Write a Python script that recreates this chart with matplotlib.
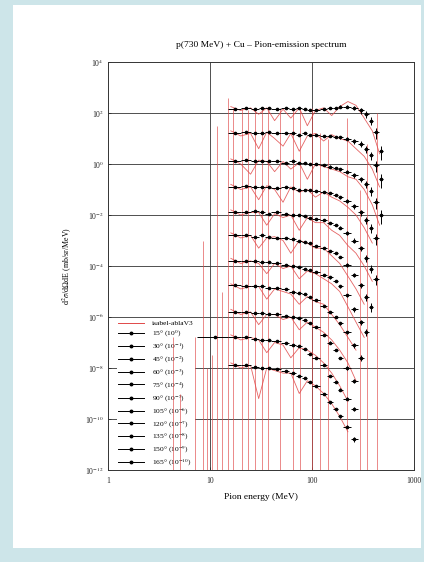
import numpy as np
import matplotlib
matplotlib.use("Agg")
import matplotlib.pyplot as plt
from matplotlib.patches import Rectangle
from matplotlib.lines import Line2D

plt.rcParams['font.family'] = ['Liberation Serif', 'DejaVu Serif']
plt.rcParams['mathtext.fontset'] = 'stix'

nan = np.nan

# ---------------- data ----------------
title = "p(730 MeV) + Cu \u2013 Pion-emission spectrum"
xlabel = "Pion energy (MeV)"
ylabel = r"d$^2\sigma$/d$\Omega$dE (mb/sr/MeV)"
model_label = "isabel-ablaV3"

angles = [15, 30, 45, 60, 75, 90, 105, 120, 135, 150, 165]
scale_exp = [0, -1, -2, -3, -4, -5, -6, -7, -8, -9, -10]

bin_lo = [7.5, 15, 20, 25, 30, 35, 40, 50, 60, 70, 80, 90, 100, 120, 140, 160, 180, 200, 240, 280, 320, 360, 400, 450]
bin_hi = [15, 20, 25, 30, 35, 40, 50, 60, 70, 80, 90, 100, 120, 140, 160, 180, 200, 240, 280, 320, 360, 400, 450, 500]
rel_err = [0.08, 0.05, 0.05, 0.05, 0.05, 0.05, 0.05, 0.05, 0.05, 0.05, 0.06, 0.06, 0.07, 0.08, 0.1, 0.1, 0.12, 0.15, 0.2, 0.25, 0.3, 0.35, 0.45, 0.55]

# measured spectra, log10 of (scaled) cross section per bin
log_data = [
    [nan, 2.15, 2.2, 2.15, 2.2, 2.2, 2.15, 2.2, 2.15, 2.2, 2.15, 2.1, 2.1, 2.15, 2.2, 2.2, 2.25, 2.25, 2.2, 2.1, 1.95, 1.7, 1.25, 0.5],
    [nan, 1.2, 1.25, 1.2, 1.2, 1.25, 1.2, 1.2, 1.2, 1.15, 1.2, 1.15, 1.15, 1.1, 1.1, 1.05, 1.05, 1.0, 0.9, 0.8, 0.6, 0.35, -0.05, -0.6],
    [nan, 0.1, 0.15, 0.1, 0.1, 0.1, 0.1, 0.05, 0.1, 0.05, 0.05, 0.0, 0.0, -0.05, -0.1, -0.15, -0.2, -0.3, -0.45, -0.6, -0.8, -1.05, -1.5, -2.0],
    [nan, -0.9, -0.85, -0.9, -0.9, -0.9, -0.95, -0.9, -0.95, -1.0, -1.0, -1.0, -1.05, -1.1, -1.15, -1.2, -1.3, -1.45, -1.65, -1.9, -2.2, -2.5, -2.9, nan],
    [nan, -1.9, -1.9, -1.85, -1.9, -1.95, -1.9, -1.95, -2.0, -2.0, -2.05, -2.1, -2.15, -2.2, -2.3, -2.4, -2.5, -2.7, -3.0, -3.3, -3.7, -4.1, -4.5, nan],
    [nan, -2.8, -2.8, -2.85, -2.8, -2.85, -2.9, -2.9, -2.95, -3.0, -3.05, -3.1, -3.2, -3.3, -3.4, -3.5, -3.65, -3.95, -4.35, -4.75, -5.2, -5.6, nan, nan],
    [nan, -3.8, -3.8, -3.8, -3.85, -3.85, -3.9, -3.95, -4.0, -4.05, -4.1, -4.15, -4.25, -4.35, -4.45, -4.6, -4.8, -5.15, -5.7, -6.2, -6.6, nan, nan, nan],
    [nan, -4.75, -4.8, -4.8, -4.8, -4.85, -4.85, -4.9, -5.0, -5.05, -5.1, -5.2, -5.35, -5.55, -5.8, -6.0, -6.25, -6.6, -7.1, -7.6, nan, nan, nan, nan],
    [nan, -5.8, -5.8, -5.85, -5.85, -5.9, -5.9, -5.95, -6.0, -6.05, -6.1, -6.25, -6.4, -6.7, -7.0, -7.3, -7.6, -8.0, -8.5, nan, nan, nan, nan, nan],
    [-6.8, -6.8, -6.8, -6.85, -6.9, -6.9, -6.95, -7.0, -7.1, -7.15, -7.25, -7.45, -7.6, -7.9, -8.3, -8.55, -8.85, -9.2, -9.6, nan, nan, nan, nan, nan],
    [nan, -7.9, -7.9, -7.95, -8.0, -8.0, -8.05, -8.1, -8.2, -8.3, -8.4, -8.55, -8.7, -9.0, -9.35, -9.6, -9.9, -10.3, -10.8, nan, nan, nan, nan, nan],
]

# model calculation (log10), common energy grid
mc_E = [16, 20, 25, 30, 36, 43, 52, 62, 75, 90, 108, 130, 156, 187, 225, 270, 325, 390, 460]
log_mc = [
    [2.25, 2.1, 2.2, 1.95, 2.2, 1.7, 2.15, 1.8, 2.2, 1.5, 2.1, 2.2, 1.9, 2.25, 2.45, 2.3, 1.8, 1.3, 0.4],
    [1.3, 1.1, 1.2, 0.6, 1.25, 1.0, 0.7, 1.2, 0.5, 1.1, 1.2, 0.9, 1.15, 1.0, 0.9, 0.6, 0.3, -0.2, -0.9],
    [0.2, 0.0, -0.4, 0.15, 0.1, -0.3, 0.1, -0.2, 0.05, -0.6, 0.0, -0.1, -0.2, -0.3, -0.5, -0.6, -1.0, -1.6, -2.4],
    [-0.8, -1.0, -0.9, -1.4, -0.85, -1.0, -1.5, -0.9, -1.1, -1.0, -1.3, -1.1, -1.3, -1.45, -1.7, -2.0, -2.5, -3.1, nan],
    [-1.8, -2.0, -1.9, -1.9, -2.4, -1.95, -2.1, -2.0, -2.6, -2.1, -2.3, -2.3, -2.6, -2.8, -3.2, -3.5, -4.0, -4.6, nan],
    [-2.7, -2.9, -2.8, -3.3, -2.9, -2.85, -3.0, -3.5, -3.0, -3.1, -3.3, -3.3, -3.6, -3.9, -4.4, -4.9, -5.5, nan, nan],
    [-3.7, -3.9, -3.8, -3.9, -4.3, -3.9, -4.1, -4.0, -4.5, -4.2, -4.3, -4.5, -4.7, -5.0, -5.6, -6.2, -6.8, nan, nan],
    [-4.7, -4.9, -4.8, -4.8, -5.3, -4.9, -5.0, -5.1, -5.5, -5.2, -5.4, -5.5, -5.9, -6.3, -6.8, -7.3, nan, nan, nan],
    [-5.7, -5.9, -5.8, -6.3, -5.9, -5.9, -6.1, -6.0, -6.5, -6.2, -6.4, -6.6, -6.9, -7.3, -7.8, -8.5, nan, nan, nan],
    [-6.7, -6.9, -6.8, -6.9, -7.4, -7.0, -7.1, -7.6, -7.2, -7.3, -7.5, -7.8, -8.2, -8.7, -9.3, nan, nan, nan, nan],
    [-7.8, -8.0, -7.9, -9.2, -8.0, -8.1, -8.2, -8.2, -9.0, -8.5, -8.7, -9.0, -9.4, -9.9, -10.5, nan, nan, nan, nan],
]

# model error bars reaching down to zero (energy, log10 of upper end)
spike_E = [4.3, 5.1, 7.1, 8.5, 9.4, 10.4, 11.7, 13.1, 15.0, 16.8, 20.6, 23.6, 27.6, 32.3, 37, 48.6, 65, 76, 100, 120, 143, 220, 295, 347, 434]
spike_top = [-6.8, -9.0, -6.8, -3.0, -8.0, -7.5, 1.5, -5.0, 2.6, 2.2, 2.2, 2.1, 2.2, 2.2, 2.1, 2.2, 2.2, 2.1, 2.2, 1.2, 1.0, 1.8, -1.0, 0.8, 2.0]

xticks = [1, 10, 100, 1000]
xticklabels = ["1", "10", "100", "1000"]
yexp = [-12, -10, -8, -6, -4, -2, 0, 2, 4]

# ---------------- figure ----------------
W, H = 424, 562
fig = plt.figure(figsize=(W / 100, H / 100), dpi=100)
fig.patch.set_facecolor('#cde5e9')
panel = Rectangle((13 / W, 1 - 548 / H), (421 - 13) / W, (548 - 5) / H,
                  transform=fig.transFigure, facecolor='white',
                  edgecolor='none', zorder=-10)
fig.patches.append(panel)

ax = fig.add_axes([108 / W, 1 - 470 / H, (414 - 108) / W, (470 - 62) / H])
ax.set_zorder(1)
ax.set_xscale('log')
ax.set_yscale('log')
ax.set_xlim(1, 1000)
ax.set_ylim(1e-12, 1e4)
ax.set_facecolor('white')

red = '#e04848'
ymin = 1e-12

# model spikes (error bars to zero)
ax.vlines(spike_E, ymin, 10 ** np.array(spike_top), colors=red, lw=0.6, alpha=0.75, zorder=6)

# model curves
mcE = np.array(mc_E)
for lm in log_mc:
    v = 10 ** np.array(lm)
    ax.plot(mcE, v, color=red, lw=0.6, alpha=0.85, zorder=6)

# data
lo = np.array(bin_lo)
hi = np.array(bin_hi)
cen = (lo + hi) / 2
xerr = [cen - lo, hi - cen]
rel = np.array(rel_err)
handles = []
for i, ld in enumerate(log_data):
    v = 10 ** np.array(ld)
    m = ~np.isnan(v)
    ax.errorbar(cen[m], v[m], xerr=[xerr[0][m], xerr[1][m]], yerr=v[m] * rel[m],
                fmt='o', ms=1.6, color='black', ecolor='black', elinewidth=0.7,
                capsize=0, zorder=7)
    handles.append(Line2D([], [], color='black', lw=0.7, marker='o', ms=1.8))

# grid
for xv in [10, 100]:
    ax.axvline(xv, color='#333333', lw=0.6, zorder=1)
for e in yexp[1:-1]:
    ax.axhline(10.0 ** e, color='#333333', lw=0.6, zorder=1)

ax.set_xticks(xticks)
ax.set_xticklabels(xticklabels)
ax.set_yticks([10.0 ** e for e in yexp])
ax.set_yticklabels([r"10$^{%d}$" % e for e in yexp])
ax.minorticks_off()
ax.tick_params(axis='both', labelsize=5.5, length=2, width=0.5, direction='in', colors='#222222')
ax.tick_params(axis='x', pad=5)
ax.tick_params(axis='y', pad=3)
for s in ax.spines.values():
    s.set_linewidth(0.7)
    s.set_color('#333333')

ax.set_title(title, fontsize=6.8, pad=11)
ax.set_xlabel(xlabel, fontsize=6.8, labelpad=6)
ax.set_ylabel(ylabel, fontsize=5.8, labelpad=8)

labels = [model_label] + ["%d\u00b0 (10$^{%d}$)" % (a, s) for a, s in zip(angles, scale_exp)]
red_handle = Line2D([], [], color=red, lw=0.7)
leg = ax.legend([red_handle] + handles, labels, loc='upper left',
                bbox_to_anchor=(0.03, 0.37), fontsize=5.4, frameon=True,
                handlelength=3.4, labelspacing=0.33, borderpad=0.15,
                handletextpad=1.1, borderaxespad=0.0, facecolor='white',
                edgecolor='none', framealpha=1.0)
leg.set_zorder(2.5)

fig.savefig('out.png', dpi=100, facecolor=fig.get_facecolor())
